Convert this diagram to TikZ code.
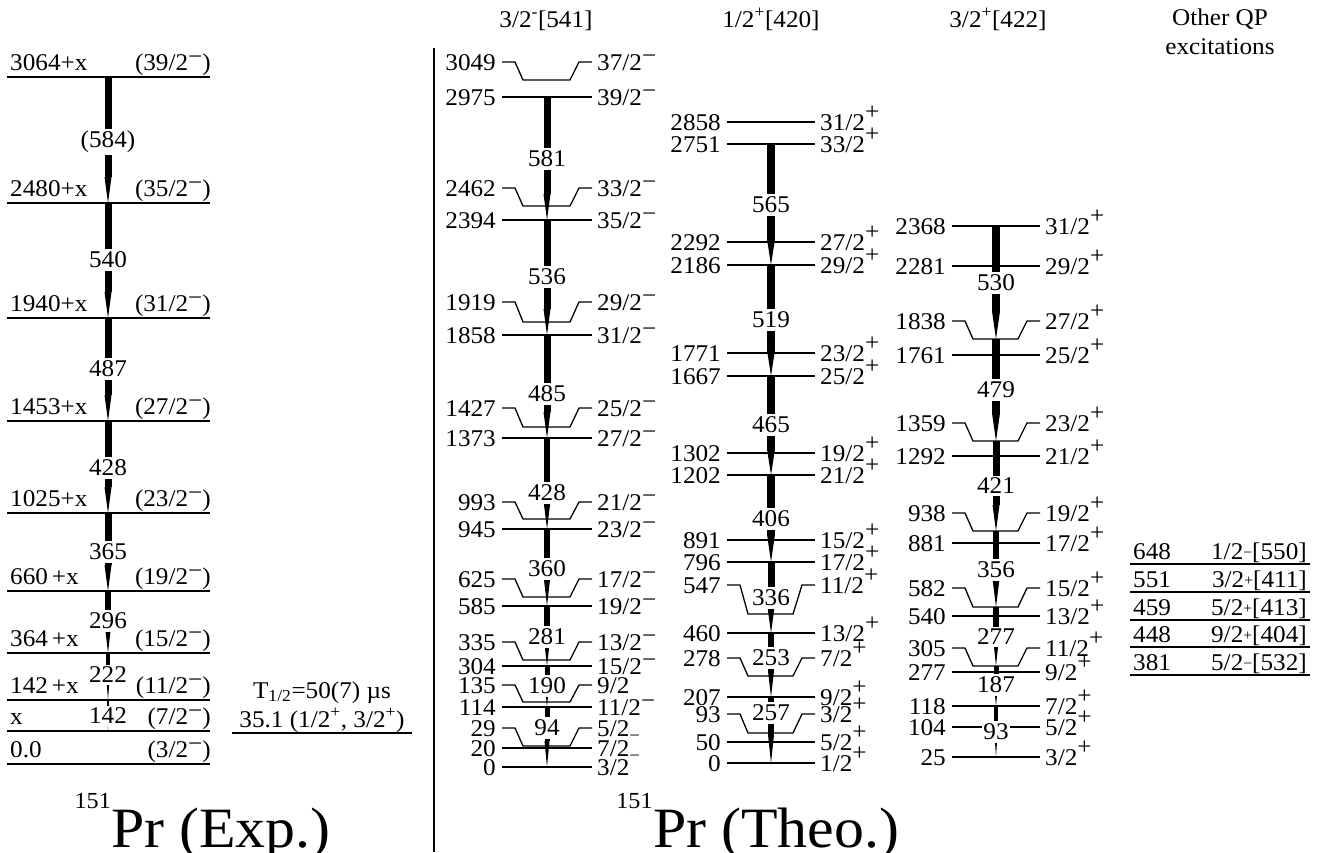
\documentclass[tikz,border=0pt]{standalone}
\usepackage{fontspec}
\setmainfont{Liberation Serif}[FakeStretch=1.05]
\usepackage{tikz}
\usetikzlibrary{arrows.meta}

% raised parity signs
\newcommand{\pp}{\raisebox{11pt}{+}}
\newcommand{\mm}{\raisebox{7pt}{−}}
\newcommand{\lm}{\raisebox{-5.5pt}{\fontsize{18}{18}\selectfont−}}
\newcommand{\xm}{\raisebox{6pt}{−}}
\newcommand{\qm}{\raisebox{2pt}{\fontsize{15}{15}\selectfont−}}
\newcommand{\qp}{\raisebox{2pt}{\fontsize{15}{15}\selectfont+}}

% experimental level: name, y, energy, spin
\newcommand{\elevl}[4]{%
  \draw[lvl] (7,#2) -- (210,#2);
  \coordinate (#1) at (108,#2);
  \node[anchor=base west, inner sep=0pt] (#1e) at (10,#2-6.5) {#3};
  \node[anchor=base east, inner sep=0pt] (#1s) at (211,#2-6.5) {#4};}
% calculated level: name, left x, right x, y, energy, spin
\newcommand{\levl}[6]{%
  \draw[lvl] (#2,#4) -- (#3,#4);
  \coordinate (#1) at ({(#2+#3)/2},#4);
  \node[elab] (#1e) at (#2,#4) {#5};
  \node[slab] (#1s) at (#3,#4) {#6};}
% calculated partner level: name, left x, right x, label y, level y, energy, spin
\newcommand{\blevl}[7]{%
  \draw[lvl] (#2,#4) -- (#2+13,#4) -- (#2+21,#5) -- (#3-22,#5) -- (#3-13,#4) -- (#3,#4);
  \coordinate (#1) at ({(#2+#3)/2},#5);
  \node[elab] (#1e) at (#2,#4) {#6};
  \node[slab] (#1s) at (#3,#4) {#7};}

\begin{document}
\begin{tikzpicture}[x=1pt, y=-1pt, font=\fontsize{24}{26}\selectfont,
  lvl/.style={line width=1.3pt},
  elab/.style={anchor=base east, inner sep=0pt, xshift=-6pt, yshift=-8pt},
  slab/.style={anchor=base west, inner sep=0pt, xshift=5pt, yshift=-8pt},
  glab/.style={fill=white, inner xsep=1pt, inner ysep=2.5pt},
  gam/.style={line width=#1, -{Triangle[length=26pt, width=#1, line width=0pt]}},
  head/.style={anchor=base, align=center},
  title/.style={anchor=base, inner sep=0pt, font=\fontsize{57}{60}\selectfont},
  mass/.style={anchor=base east, inner sep=0pt, font=\fontsize{23}{24}\selectfont}]
  \useasboundingbox (0,0) rectangle (1325,852);

  % experiment
  \elevl{e3064}{77}{3064+x}{(39/2\xm)}
  \elevl{e2480}{203}{2480+x}{(35/2\xm)}
  \elevl{e1940}{318}{1940+x}{(31/2\xm)}
  \elevl{e1453}{421}{1453+x}{(27/2\xm)}
  \elevl{e1025}{513}{1025+x}{(23/2\xm)}
  \elevl{e660}{591}{660\,+x}{(19/2\xm)}
  \elevl{e364}{653}{364\,+x}{(15/2\xm)}
  \elevl{e142}{700}{142\,+x}{(11/2\xm)}
  \elevl{ex}{731}{x}{(7/2\xm)}
  \elevl{e0}{764}{0.0}{(3/2\xm)}
  \draw[gam=7pt] (e3064) -- (e2480);
  \draw[gam=7pt] (e2480) -- (e1940);
  \draw[gam=7pt] (e1940) -- (e1453);
  \draw[gam=7pt] (e1453) -- (e1025);
  \draw[gam=7pt] (e1025) -- (e660);
  \draw[gam=6pt] (e660) -- (e364);
  \draw[gam=4pt] (e364) -- (e142);
  \draw[gam=2pt] (e142) -- (ex);
  \node[glab] (g584) at (108,142) {(584)};
  \node[glab] (g540) at (108,260) {540};
  \node[glab] (g487) at (108,369) {487};
  \node[glab] (g428e) at (108,468) {428};
  \node[glab] (g365) at (108,552) {365};
  \node[glab] (g296) at (108,621) {296};
  \node[glab] (g222) at (108,675) {222};
  \node[glab] (g142) at (108,716) {142};

  % isomer
  \draw[lvl] (232,733) -- (412,733);
  \node[anchor=base] (thalf) at (322,698) {T\textsubscript{1/2}=50(7) µs};
  \node[anchor=base] (iso) at (322,727) {35.1 (1/2\textsuperscript{+}, 3/2\textsuperscript{+})};

  \draw[line width=2pt] (434,48) -- (434,852);

  % 3/2-[541]
  \node[head] (h541) at (546,27) {3/2\textsuperscript{-}[541]};
  \blevl{a3049}{502}{592}{62}{80}{3049}{37/2\mm}
  \levl{a2975}{502}{592}{97}{2975}{39/2\mm}
  \blevl{a2462}{502}{592}{188}{206}{2462}{33/2\mm}
  \levl{a2394}{502}{592}{220}{2394}{35/2\mm}
  \blevl{a1919}{502}{592}{302}{322}{1919}{29/2\mm}
  \levl{a1858}{502}{592}{335}{1858}{31/2\mm}
  \blevl{a1427}{502}{592}{408}{427}{1427}{25/2\mm}
  \levl{a1373}{502}{592}{438}{1373}{27/2\mm}
  \blevl{a993}{502}{592}{502}{519}{993}{21/2\mm}
  \levl{a945}{502}{592}{529}{945}{23/2\mm}
  \blevl{a625}{502}{592}{579}{597}{625}{17/2\mm}
  \levl{a585}{502}{592}{606}{585}{19/2\mm}
  \blevl{a335}{502}{592}{642}{660}{335}{13/2\mm}
  \levl{a304}{502}{592}{666}{304}{15/2\mm}
  \blevl{a135}{502}{592}{685}{702}{135}{9/2}
  \levl{a114}{502}{592}{707}{114}{11/2\mm}
  \blevl{a29}{502}{592}{728}{746}{29}{5/2\lm}
  \levl{a20}{502}{592}{748}{20}{7/2\lm}
  \levl{a0}{502}{592}{767}{0}{3/2}
  \draw[gam=7pt] (a2975) -- (a2394);
  \draw[gam=7pt] (a2394) -- (a1858);
  \draw[gam=7pt] (a1858) -- (a1373);
  \draw[gam=6.5pt] (a1373) -- (a945);
  \draw[gam=6pt] (a945) -- (a585);
  \draw[gam=6pt] (a585) -- (a304);
  \draw[gam=5pt] (a304) -- (a114);
  \draw[gam=5pt] (a114) -- (a0);
  \node[glab] (g581) at (547,159) {581};
  \node[glab] (g536) at (547,277) {536};
  \node[glab] (g485) at (547,394) {485};
  \node[glab] (g428a) at (547,493) {428};
  \node[glab] (g360) at (547,569) {360};
  \node[glab] (g281) at (547,637) {281};
  \node[glab] (g190) at (547,686) {190};
  \node[glab] (g94) at (547,728) {94};

  % 1/2+[420]
  \node[head] (h420) at (771,27) {1/2\textsuperscript{+}[420]};
  \levl{b2858}{727}{815}{122}{2858}{31/2\pp}
  \levl{b2751}{727}{815}{144}{2751}{33/2\pp}
  \levl{b2292}{727}{815}{242}{2292}{27/2\pp}
  \levl{b2186}{727}{815}{265}{2186}{29/2\pp}
  \levl{b1771}{727}{815}{353}{1771}{23/2\pp}
  \levl{b1667}{727}{815}{376}{1667}{25/2\pp}
  \levl{b1302}{727}{815}{453}{1302}{19/2\pp}
  \levl{b1202}{727}{815}{475}{1202}{21/2\pp}
  \levl{b891}{727}{815}{540}{891}{15/2\pp}
  \levl{b796}{727}{815}{562}{796}{17/2\pp}
  \blevl{b547}{727}{815}{585}{614}{547}{11/2\pp}
  \levl{b460}{727}{815}{633}{460}{13/2\pp}
  \blevl{b278}{727}{815}{658}{676}{278}{7/2\pp}
  \levl{b207}{727}{815}{697}{207}{9/2\pp}
  \blevl{b93}{727}{815}{714}{733}{93}{3/2\pp}
  \levl{b50}{727}{815}{742}{50}{5/2\pp}
  \levl{b0}{727}{815}{763}{0}{1/2\pp}
  \draw[gam=8pt] (b2751) -- (b2186);
  \draw[gam=8pt] (b2186) -- (b1667);
  \draw[gam=8pt] (b1667) -- (b1202);
  \draw[gam=7.5pt] (b1202) -- (b796);
  \draw[gam=7pt] (b796) -- (b460);
  \draw[gam=6pt] (b460) -- (b207);
  \draw[gam=5.5pt] (b207) -- (b0);
  \node[glab] (g565) at (771,205) {565};
  \node[glab] (g519) at (771,320) {519};
  \node[glab] (g465) at (771,425) {465};
  \node[glab] (g406) at (771,519) {406};
  \node[glab] (g336) at (771,598) {336};
  \node[glab] (g253) at (771,658) {253};
  \node[glab] (g257) at (771,713) {257};

  % 3/2+[422]
  \node[head] (h422) at (998,27) {3/2\textsuperscript{+}[422]};
  \levl{c2368}{952}{1040}{226}{2368}{31/2\pp}
  \levl{c2281}{952}{1040}{266}{2281}{29/2\pp}
  \blevl{c1838}{952}{1040}{321}{339}{1838}{27/2\pp}
  \levl{c1761}{952}{1040}{355}{1761}{25/2\pp}
  \blevl{c1359}{952}{1040}{423}{441}{1359}{23/2\pp}
  \levl{c1292}{952}{1040}{456}{1292}{21/2\pp}
  \blevl{c938}{952}{1040}{513}{531}{938}{19/2\pp}
  \levl{c881}{952}{1040}{543}{881}{17/2\pp}
  \blevl{c582}{952}{1040}{588}{607}{582}{15/2\pp}
  \levl{c540}{952}{1040}{616}{540}{13/2\pp}
  \blevl{c305}{952}{1040}{648}{666}{305}{11/2\pp}
  \levl{c277}{952}{1040}{672}{277}{9/2\pp}
  \levl{c118}{952}{1040}{706}{118}{7/2\pp}
  \levl{c104}{952}{1040}{727}{104}{5/2\pp}
  \levl{c25}{952}{1040}{757}{25}{3/2\pp}
  \draw[gam=7.5pt] (c2368) -- (c1838);
  \draw[gam=7.5pt] (c1838) -- (c1359);
  \draw[gam=7pt] (c1359) -- (c938);
  \draw[gam=6.5pt] (c938) -- (c582);
  \draw[gam=5.5pt] (c582) -- (c305);
  \draw[gam=5pt] (c305) -- (c118);
  \draw[gam=3.5pt] (c118) -- (c25);
  \node[glab] (g530) at (996,283) {530};
  \node[glab] (g479) at (996,390) {479};
  \node[glab] (g421) at (996,486) {421};
  \node[glab] (g356) at (996,570) {356};
  \node[glab] (g277) at (996,637) {277};
  \node[glab] (g187) at (996,685) {187};
  \node[glab] (g93) at (996,732) {93};

  % other quasiparticle states
  \node[head, font=\fontsize{24}{29}\selectfont] (hqp) at (1220,54) {Other QP\\excitations};
  \draw[lvl] (1130,564) -- (1310,564);
  \node[anchor=base west, inner sep=0pt] (q648) at (1133,559) {648};
  \node[anchor=base east, inner sep=0pt] (q648k) at (1307,559) {1/2\qm[550]};
  \draw[lvl] (1130,592) -- (1310,592);
  \node[anchor=base west, inner sep=0pt] (q551) at (1133,587) {551};
  \node[anchor=base east, inner sep=0pt] (q551k) at (1307,587) {3/2\qp[411]};
  \draw[lvl] (1130,620) -- (1310,620);
  \node[anchor=base west, inner sep=0pt] (q459) at (1133,615) {459};
  \node[anchor=base east, inner sep=0pt] (q459k) at (1307,615) {5/2\qp[413]};
  \draw[lvl] (1130,647) -- (1310,647);
  \node[anchor=base west, inner sep=0pt] (q448) at (1133,642) {448};
  \node[anchor=base east, inner sep=0pt] (q448k) at (1307,642) {9/2\qp[404]};
  \draw[lvl] (1130,675) -- (1310,675);
  \node[anchor=base west, inner sep=0pt] (q381) at (1133,670) {381};
  \node[anchor=base east, inner sep=0pt] (q381k) at (1307,670) {5/2\qm[532]};

  % titles
  \node[title] (texp) at (221,847) {Pr (Exp.)};
  \node[mass] (aexp) at ([yshift=39pt]texp.base west) {151};
  \node[title] (ttheo) at (776,847) {Pr (Theo.)};
  \node[mass] (atheo) at ([yshift=39pt]ttheo.base west) {151};
\end{tikzpicture}
\end{document}
